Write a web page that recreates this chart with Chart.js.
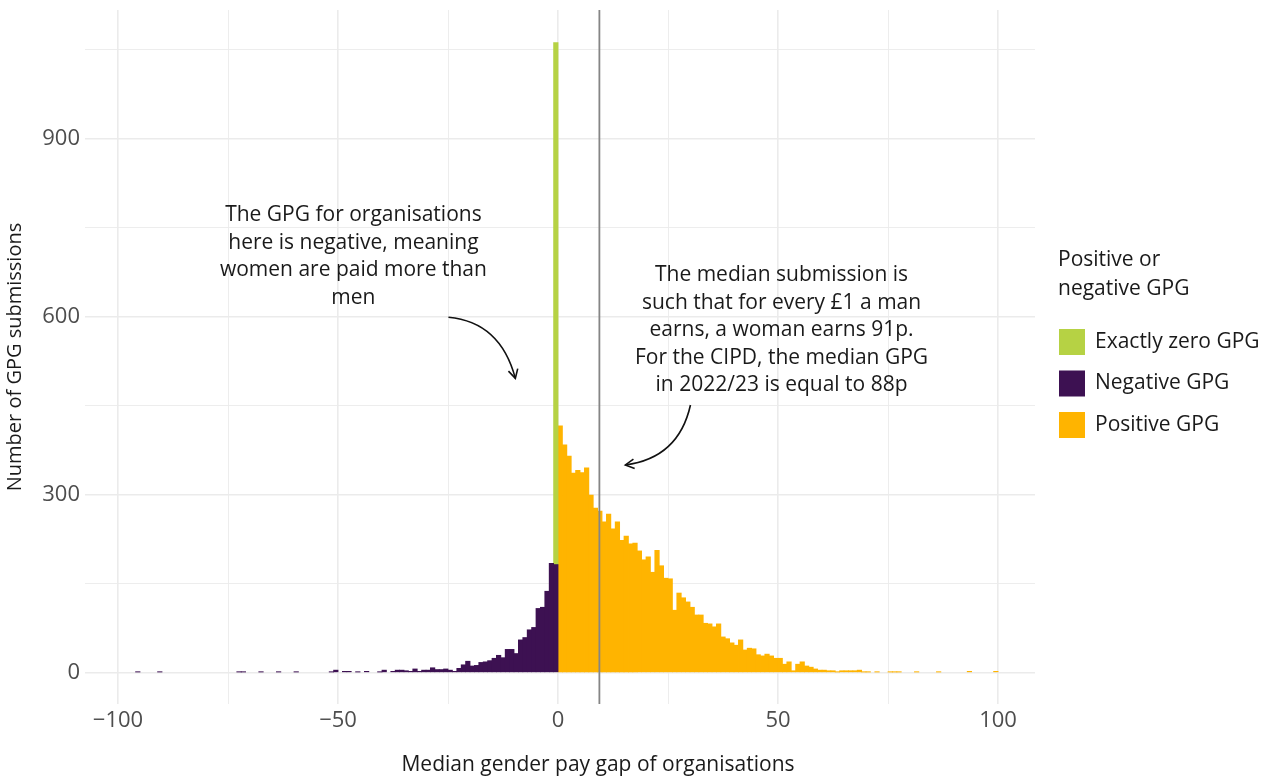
<!DOCTYPE html>
<html>
<head>
<meta charset="utf-8">
<script src="https://cdn.jsdelivr.net/npm/chart.js@4.4.0/dist/chart.umd.min.js"></script>
<style>
  html, body { margin: 0; padding: 0; background: #fff; }
</style>
</head>
<body>
<canvas id="chart" width="1277" height="778"></canvas>
<script>
// histogram counts, one value per 1-point bin
// bins from -100 to -1 (left edges)
const negativeCounts = [
  0, 0, 0, 0, 1, 0, 0, 0, 0, 1,
  0, 0, 0, 0, 0, 0, 0, 0, 0, 0,
  0, 0, 0, 0, 0, 0, 0, 1, 1, 0,
  0, 0, 1, 0, 0, 0, 1, 0, 0, 0,
  1, 0, 0, 0, 0, 0, 0, 0, 1, 4,
  0, 2, 2, 0, 1, 0, 2, 0, 0, 1,
  4, 0, 2, 4, 4, 3, 2, 6, 2, 4,
  4, 8, 5, 5, 6, 4, 2, 7, 13, 19,
  11, 12, 17, 18, 20, 24, 29, 25, 39, 39,
  32, 55, 59, 72, 76, 108, 110, 137, 184, 182
];
// bins from 0 to 99 (left edges)
const positiveCounts = [
  416, 384, 365, 336, 341, 337, 345, 299, 277, 272,
  254, 267, 242, 254, 223, 230, 217, 218, 205, 190,
  195, 169, 206, 180, 159, 158, 105, 134, 126, 119,
  110, 97, 97, 83, 82, 77, 82, 60, 57, 50,
  46, 55, 38, 41, 40, 30, 28, 31, 28, 24,
  24, 14, 18, 3, 14, 18, 11, 9, 6, 4,
  4, 3, 3, 1, 3, 3, 3, 3, 4, 1,
  1, 0, 1, 0, 0, 1, 1, 1, 0, 0,
  0, 1, 0, 0, 0, 0, 1, 0, 0, 0,
  0, 0, 0, 2, 0, 0, 0, 0, 0, 2
];
// exact zero submissions, stacked in the (-1, 0] bin
const zeroBinStart = -1;
const zeroCount = 880;

const negativeStart = -100;
const positiveStart = 0;
const medianGap = 9.4;

const xTicks = [-100, -75, -50, -25, 0, 25, 50, 75, 100];
const xLabelled = [-100, -50, 0, 50, 100];
const yTicks = [0, 150, 300, 450, 600, 750, 900, 1050];
const yLabelled = [0, 300, 600, 900];

const seriesNames = ['Exactly zero GPG', 'Negative GPG', 'Positive GPG'];
const colors = {
  zero: '#b6d244',
  negative: '#3d1152',
  positive: '#ffb400'
};

const FONT = '"Open Sans", "DejaVu Sans", sans-serif';
const ink = '#1a1a1a';
const grid = '#ebebeb';

// empty bins are left out so nothing is drawn for them
const toPoints = (counts, start) => counts.map((v, i) => ({ x: start + i + 0.5, y: v === 0 ? null : v }));
const isMajor = (list, c) => !!(c && c.tick && list.includes(c.tick.value));

const notes = [
  { x: -46.5, y: 771, lines: ['The GPG for organisations', 'here is negative, meaning', 'women are paid more than', 'men'] },
  { x: 50.8, y: 670, lines: ['The median submission is', 'such that for every £1 a man', 'earns, a woman earns 91p.', 'For the CIPD, the median GPG', 'in 2022/23 is equal to 88p'] }
];
const arrows = [
  { from: [-24.9, 599], ctrl: [-13.1, 591], to: [-9.7, 496] },
  { from: [30.1, 451], ctrl: [27.4, 361.5], to: [15.3, 350] }
];

const extras = {
  id: 'extras',
  afterDatasetsDraw(chart) {
    const { ctx, chartArea: a, scales: { x, y } } = chart;
    ctx.save();
    // median line
    const mx = x.getPixelForValue(medianGap);
    ctx.strokeStyle = '#858585';
    ctx.lineWidth = 1.8;
    ctx.beginPath();
    ctx.moveTo(mx, a.top);
    ctx.lineTo(mx, a.bottom);
    ctx.stroke();

    // annotation text
    ctx.fillStyle = ink;
    ctx.font = '21px ' + FONT;
    ctx.textAlign = 'center';
    ctx.textBaseline = 'middle';
    notes.forEach(n => {
      const px = x.getPixelForValue(n.x);
      const py = y.getPixelForValue(n.y);
      n.lines.forEach((t, i) => ctx.fillText(t, px, py + i * 27.5));
    });

    // curved arrows
    ctx.strokeStyle = '#111';
    ctx.lineWidth = 1.6;
    arrows.forEach(ar => {
      const p0 = [x.getPixelForValue(ar.from[0]), y.getPixelForValue(ar.from[1])];
      const c = [x.getPixelForValue(ar.ctrl[0]), y.getPixelForValue(ar.ctrl[1])];
      const p1 = [x.getPixelForValue(ar.to[0]), y.getPixelForValue(ar.to[1])];
      ctx.beginPath();
      ctx.moveTo(p0[0], p0[1]);
      ctx.quadraticCurveTo(c[0], c[1], p1[0], p1[1]);
      ctx.stroke();
      const ang = Math.atan2(p1[1] - c[1], p1[0] - c[0]);
      const L = 10, w = 0.5;
      ctx.beginPath();
      ctx.moveTo(p1[0] - L * Math.cos(ang - w), p1[1] - L * Math.sin(ang - w));
      ctx.lineTo(p1[0], p1[1]);
      ctx.lineTo(p1[0] - L * Math.cos(ang + w), p1[1] - L * Math.sin(ang + w));
      ctx.stroke();
    });
    ctx.restore();
  },
  afterDraw(chart) {
    const { ctx, chartArea: a } = chart;
    ctx.save();
    ctx.fillStyle = ink;
    ctx.font = '21px ' + FONT;
    ctx.textBaseline = 'middle';
    // x axis title
    ctx.textAlign = 'center';
    ctx.fillText('Median gender pay gap of organisations', 598, 765);
    // legend
    ctx.textAlign = 'left';
    const lx = a.right + 23;
    ctx.fillText('Positive or', lx, 260);
    ctx.fillText('negative GPG', lx, 289);
    const swatches = [colors.zero, colors.negative, colors.positive];
    seriesNames.forEach((name, i) => {
      const cy = 342 + i * 41.5;
      ctx.fillStyle = swatches[i];
      ctx.fillRect(lx + 1, cy - 13, 26, 26);
      ctx.fillStyle = ink;
      ctx.fillText(name, lx + 37, cy);
    });
    ctx.restore();
  }
};

new Chart(document.getElementById('chart'), {
  type: 'bar',
  data: {
    datasets: [
      { label: seriesNames[1], data: toPoints(negativeCounts, negativeStart), backgroundColor: colors.negative },
      { label: seriesNames[0], data: [{ x: zeroBinStart + 0.5, y: zeroCount }], backgroundColor: colors.zero },
      { label: seriesNames[2], data: toPoints(positiveCounts, positiveStart), backgroundColor: colors.positive }
    ]
  },
  options: {
    responsive: false,
    animation: false,
    layout: { padding: { left: 0, right: 242, top: 10, bottom: 0 } },
    datasets: {
      bar: { barPercentage: 1, categoryPercentage: 1, borderWidth: 0, inflateAmount: 0.4, skipNull: true }
    },
    plugins: { legend: { display: false }, tooltip: { enabled: false } },
    scales: {
      x: {
        type: 'linear',
        stacked: true,
        offset: false,
        min: -107.5,
        max: 108.4,
        afterBuildTicks: s => { s.ticks = xTicks.map(v => ({ value: v })); },
        afterFit: s => { s.height = 74; s.paddingLeft = 0; s.paddingRight = 0; },
        border: { display: false },
        grid: {
          offset: false,
          drawTicks: false,
          color: grid,
          lineWidth: c => isMajor(xLabelled, c) ? 1.6 : 0.9
        },
        ticks: {
          padding: 4,
          autoSkip: false,
          maxRotation: 0,
          color: '#4d4d4d',
          font: { family: FONT, size: 22 },
          callback: v => xLabelled.includes(v) ? (v < 0 ? '\u2212' + Math.abs(v) : String(v)) : ''
        }
      },
      y: {
        stacked: true,
        min: -53,
        max: 1117,
        afterBuildTicks: s => { s.ticks = yTicks.map(v => ({ value: v })); },
        afterFit: s => { s.width = 85; s.paddingTop = 0; s.paddingBottom = 0; },
        border: { display: false },
        grid: {
          drawTicks: false,
          color: grid,
          lineWidth: c => isMajor(yLabelled, c) ? 1.6 : 0.9
        },
        ticks: {
          padding: 5,
          color: '#4d4d4d',
          font: { family: FONT, size: 22 },
          callback: v => yLabelled.includes(v) ? String(v) : ''
        },
        title: {
          display: true,
          text: 'Number of GPG submissions',
          color: ink,
          padding: { top: 3, bottom: 0 },
          font: { family: FONT, size: 20 }
        }
      }
    }
  },
  plugins: [extras]
});
</script>
</body>
</html>
